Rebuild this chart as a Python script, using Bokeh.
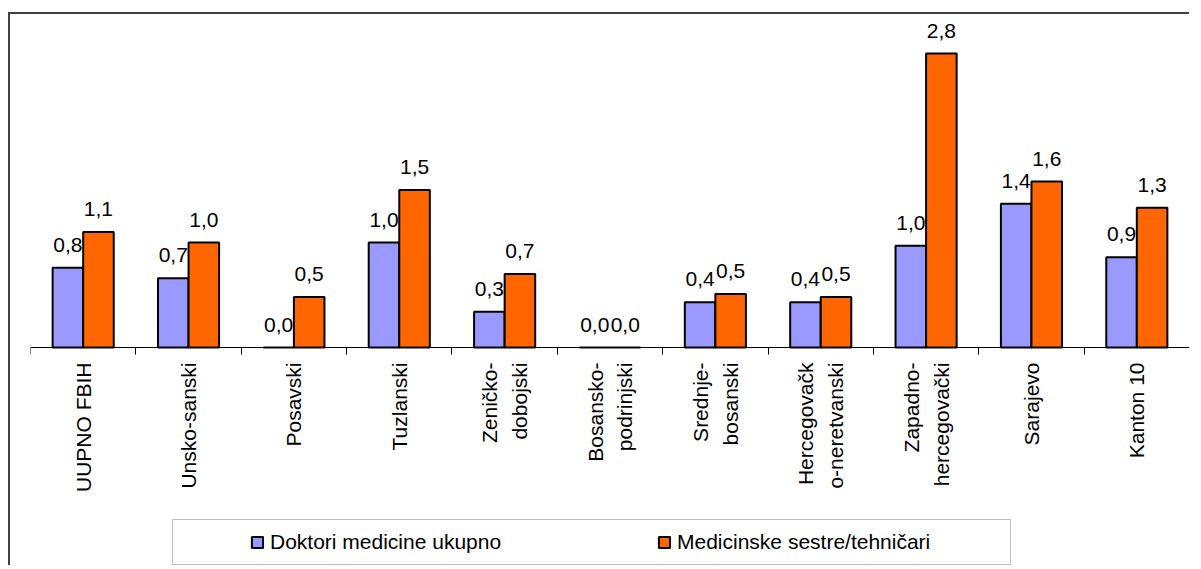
import math
from bokeh.plotting import figure
from bokeh.models import (ColumnDataSource, Range1d, LinearAxis, FixedTicker,
                          LabelSet, Legend, LegendItem)
from bokeh.transform import dodge
from bokeh.core.properties import value
from bokeh.embed import file_html
from bokeh.resources import INLINE

# ---- data ----
categories = ["UUPNO FBIH", "Unsko-sanski", "Posavski", "Tuzlanski",
              "Zeničko-\ndobojski", "Bosansko-\npodrinjski", "Srednje-\nbosanski",
              "Hercegovačk\no-neretvanski", "Zapadno-\nhercegovački", "Sarajevo",
              "Kanton 10"]
doktori = [0.76, 0.66, 0.0, 1.00, 0.34, 0.0, 0.43, 0.43, 0.97, 1.37, 0.86]
sestre = [1.10, 1.00, 0.48, 1.50, 0.70, 0.0, 0.51, 0.48, 2.80, 1.58, 1.33]
series_names = ["Doktori medicine ukupno", "Medicinske sestre/tehničari"]
series_colors = ["#9999FF", "#FF6600"]

FONT = "Liberation Sans"
FS = "21px"

# layout (pixels): frame 550 px tall, 105 px per unit, baseline 330 px below frame top
PX_PER_UNIT = 105.0
FRAME_H = 550
BASE_FROM_TOP = 330
y_max = BASE_FROM_TOP / PX_PER_UNIT
y_min = -(FRAME_H - BASE_FROM_TOP) / PX_PER_UNIT


def fmt(v):
    return f"{v:.1f}".replace(".", ",")


n = len(categories)
pos = list(range(n))
src = ColumnDataSource(dict(pos=pos, doktori=doktori, sestre=sestre,
                            lab_d=[fmt(v) for v in doktori],
                            lab_s=[fmt(v) for v in sestre]))

p = figure(width=1181, height=553,
           x_range=Range1d(-0.5, n - 0.5), y_range=Range1d(y_min, y_max),
           output_backend="svg", toolbar_location=None,
           x_axis_location=None, y_axis_location=None,
           min_border_left=20, min_border_right=2,
           min_border_top=3, min_border_bottom=0)
p.outline_line_color = None
p.xgrid.visible = False
p.ygrid.visible = False
p.background_fill_color = "white"
p.border_fill_color = "white"
p.styles = {"border-top": "2px solid #404040", "border-left": "2px solid #404040",
            "margin-top": "12px", "margin-left": "8px"}

xaxis = LinearAxis(
    ticker=FixedTicker(ticks=pos, minor_ticks=[i - 0.5 for i in range(n + 1)]),
    major_label_overrides={i: c for i, c in zip(pos, categories)},
    fixed_location=0)
xaxis.major_tick_out = 0
xaxis.major_tick_in = 0
xaxis.minor_tick_out = 7
xaxis.minor_tick_in = 0
xaxis.minor_tick_line_color = "black"
xaxis.axis_line_color = "black"
xaxis.major_label_orientation = math.pi / 2
xaxis.major_label_standoff = 8
xaxis.major_label_text_font = FONT
xaxis.major_label_text_font_size = FS
xaxis.major_label_text_color = "black"
xaxis.major_label_text_line_height = 1.3
p.add_layout(xaxis, "below")

off = 0.145
bw = 0.29
r_d = p.vbar(x=dodge("pos", -off, range=p.x_range), top="doktori", width=bw, source=src,
             fill_color=series_colors[0], line_color="black", line_width=2)
r_s = p.vbar(x=dodge("pos", off, range=p.x_range), top="sestre", width=bw, source=src,
             fill_color=series_colors[1], line_color="black", line_width=2)

for col, lab, o in (("doktori", "lab_d", -off), ("sestre", "lab_s", off)):
    p.add_layout(LabelSet(x=dodge("pos", o, range=p.x_range), y=col, text=lab, source=src,
                          y_offset=16, text_align="center", text_baseline="alphabetic",
                          text_font=value(FONT), text_font_size=value(FS),
                          text_color="black"))

legend = Legend(items=[LegendItem(label=series_names[0], renderers=[r_d]),
                       LegendItem(label=series_names[1], renderers=[r_s])],
                location=(142, 2), orientation="horizontal",
                padding=10, spacing=64, label_width=323, label_standoff=6,
                glyph_width=14, glyph_height=14,
                label_text_font=FONT, label_text_font_size=FS, label_text_color="black",
                border_line_color="#808080", border_line_width=1,
                background_fill_color="white", background_fill_alpha=1,
                title=" ", title_location="left", title_standoff=66,
                title_text_font_size="1px", title_text_alpha=0, margin=0)
p.add_layout(legend, "center")

open("out.html", "w").write(file_html(p, INLINE))
